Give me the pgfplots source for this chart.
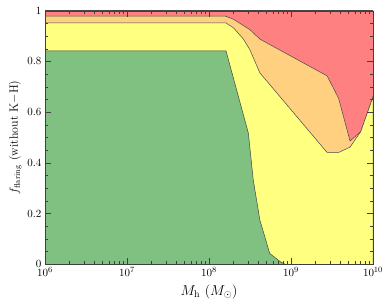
\documentclass[border=0pt]{standalone}
\usepackage{pgfplots}
\pgfplotsset{compat=1.18}
\definecolor{cgreen}{RGB}{128,192,128}
\definecolor{cyellow}{RGB}{255,255,128}
\definecolor{corange}{RGB}{255,208,128}
\definecolor{cred}{RGB}{255,128,128}
\definecolor{cedge}{RGB}{70,70,70}
\begin{document}
\begin{tikzpicture}
\begin{axis}[
  scale only axis,
  width=328pt, height=253.6pt,
  xmode=log, xmin=1e6, xmax=1e10, ymin=0, ymax=1,
  xtick={1e6,1e7,1e8,1e9,1e10},
  ytick={0,0.2,0.4,0.6,0.8,1},
  minor y tick num=3,
  tick align=inside,
  major tick length=6pt, minor tick length=3.5pt,
  axis on top,
  axis line style={black!75},
  every tick/.style={black!75},
  tick label style={font=\fontsize{11}{13}\selectfont},
  xlabel={$M_{\rm h}$ ($M_\odot$)},
  ylabel={$f_{\rm flaring}$ (without K$-$H)},
  xlabel style={at={(axis description cs:0.5,-0.11)}, anchor=center, font=\fontsize{14}{16}\selectfont},
  ylabel style={at={(axis description cs:-0.091,0.5)}, anchor=center, font=\fontsize{12}{14}\selectfont},
]
\addplot[fill=cred, draw=cedge, line width=0.5pt] coordinates {
(1e6,1) (1e10,1)} \closedcycle;
\addplot[fill=corange, draw=cedge, line width=0.5pt] coordinates {
(1e6,0.979) (1.567e8,0.979) (1.995e8,0.966) (3.162e8,0.925) (4.169e8,0.888)
(2.754e9,0.743) (3.802e9,0.655) (5.248e9,0.486) (7.079e9,0.523) (1e10,0.66)} \closedcycle;
\addplot[fill=cyellow, draw=cedge, line width=0.5pt] coordinates {
(1e6,0.952) (1.611e8,0.952) (1.995e8,0.932) (2.630e8,0.888) (3.162e8,0.845)
(4.169e8,0.755) (2.754e9,0.441) (3.802e9,0.441) (5.248e9,0.462) (7.079e9,0.523) (1e10,0.66)} \closedcycle;
\addplot[fill=cgreen, draw=cedge, line width=0.5pt] coordinates {
(1e6,0.842) (1.611e8,0.842) (3.020e8,0.517) (3.467e8,0.332) (4.169e8,0.175)
(5.495e8,0.043) (7.413e8,0.010) (8.511e8,0.0) (1e10,0)} \closedcycle;
\end{axis}
\path ([xshift=-45pt,yshift=-41.7pt]current axis.south west) rectangle ([xshift=18pt,yshift=10.7pt]current axis.north east);
\end{tikzpicture}
\end{document}
